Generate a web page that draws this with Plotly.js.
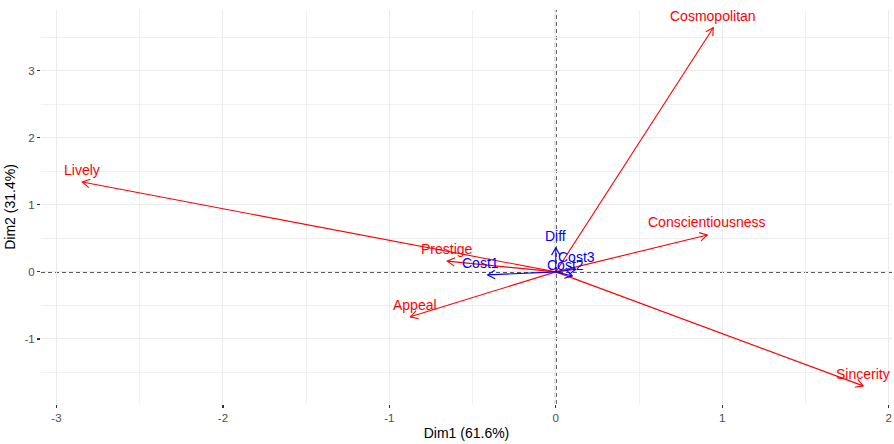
<!DOCTYPE html>
<html>
<head>
<meta charset="utf-8">
<script src="https://cdn.plot.ly/plotly-3.0.1.min.js"></script>
<style>html,body{margin:0;padding:0;background:#fff;}#chart{width:894px;height:444px;}</style>
</head>
<body>
<div id="chart"></div>
<script>
// Active variables (red)
const activeVars = ['Cosmopolitan', 'Lively', 'Conscientiousness', 'Sincerity', 'Appeal', 'Prestige'];
const activeDim1 = [0.946, -2.845, 0.91, 1.847, -0.874, -0.652];
const activeDim2 = [3.64, 1.34, 0.55, -1.70, -0.67, 0.16];
// Supplementary variables (blue)
const suppVars = ['Cost1', 'Diff', 'Cost3', 'Cost2'];
const suppDim1 = [-0.41, 0.0, 0.12, 0.10];
const suppDim2 = [-0.045, 0.36, 0.04, -0.06];

const xTicks = [-3, -2, -1, 0, 1, 2];
const yTicks = [-1, 0, 1, 2, 3];

// label nudges (pixels), purely presentational
const labelShift = {Appeal: [5, 12], Cost1: [-7, 12], Cost2: [-7, 11], Cost3: [1, 12], Conscientiousness: [0, 13]};

const FONT = 'Liberation Sans, Arial, sans-serif';
const W = 894, H = 444;
const M = {l: 41, r: 2, t: 10, b: 40};
const xRange = [-3.093, 2.02];
const yRange = [-1.97, 3.905];
const pxX = (W - M.l - M.r) / (xRange[1] - xRange[0]);
const pxY = (H - M.t - M.b) / (yRange[1] - yRange[0]);

function arrowTrace(xs, ys, color) {
  const X = [], Y = [];
  const L = 8.5, ang = Math.PI / 6;
  for (let i = 0; i < xs.length; i++) {
    const x = xs[i], y = ys[i];
    X.push(0, x, null);
    Y.push(0, y, null);
    const dx = -x * pxX, dy = -y * pxY;
    const len = Math.hypot(dx, dy) || 1;
    const ux = dx / len, uy = dy / len;
    for (const s of [1, -1]) {
      const c = Math.cos(s * ang), sn = Math.sin(s * ang);
      const rx = ux * c - uy * sn, ry = ux * sn + uy * c;
      X.push(x + rx * L / pxX);
      Y.push(y + ry * L / pxY);
      if (s === 1) { X.push(x); Y.push(y); }
    }
    X.push(null); Y.push(null);
  }
  return {x: X, y: Y, type: 'scatter', mode: 'lines', line: {color: color, width: 1.1}, hoverinfo: 'skip', showlegend: false};
}

function labels(names, xs, ys, color) {
  return names.map((n, i) => {
    const sh = labelShift[n] || [0, 12];
    return {
      x: xs[i], y: ys[i], text: n, showarrow: false, xshift: sh[0], yshift: sh[1],
      font: {family: FONT, size: 14, color: color}
    };
  });
}

const data = [
  arrowTrace(activeDim1, activeDim2, '#FF0000'),
  arrowTrace(suppDim1, suppDim2, '#0000FF')
];

const annotations = labels(activeVars, activeDim1, activeDim2, '#FF0000')
  .concat(labels(suppVars, suppDim1, suppDim2, '#0000FF'));

const axisCommon = {
  showline: false, zeroline: false,
  ticks: 'outside', ticklen: 3, tickwidth: 1.2, tickcolor: '#333333',
  tickfont: {family: FONT, size: 11.5, color: '#4d4d4d'},
  showgrid: true, gridcolor: '#ebebeb', gridwidth: 1,
  minor: {showgrid: true, gridcolor: '#f0f0f0', gridwidth: 1, ticks: ''}
};

const layout = {
  width: W, height: H,
  margin: M,
  paper_bgcolor: '#ffffff', plot_bgcolor: '#ffffff',
  showlegend: false,
  xaxis: Object.assign({}, axisCommon, {
    range: xRange, tickmode: 'array', tickvals: xTicks, ticktext: xTicks.map(String),
    minor: Object.assign({}, axisCommon.minor, {tickmode: 'linear', tick0: -2.5, dtick: 1}),
    title: {text: 'Dim1 (61.6%)', font: {family: FONT, size: 14, color: '#000'}, standoff: 5}
  }),
  yaxis: Object.assign({}, axisCommon, {
    range: yRange, tickmode: 'array', tickvals: yTicks, ticktext: yTicks.map(String),
    minor: Object.assign({}, axisCommon.minor, {tickmode: 'linear', tick0: -1.5, dtick: 1}),
    title: {text: 'Dim2 (31.4%)', font: {family: FONT, size: 14, color: '#000'}, standoff: 5}
  }),
  shapes: [
    {type: 'line', xref: 'x', yref: 'paper', x0: 0, x1: 0, y0: 0, y1: 1, line: {color: '#222', width: 1.8, dash: '4px,3px'}, layer: 'below'},
    {type: 'line', xref: 'paper', yref: 'y', x0: 0, x1: 1, y0: 0, y1: 0, line: {color: '#222', width: 1.8, dash: '4px,3px'}, layer: 'below'}
  ],
  annotations: annotations
};

Plotly.newPlot('chart', data, layout, {displayModeBar: false, staticPlot: true});
</script>
</body>
</html>
